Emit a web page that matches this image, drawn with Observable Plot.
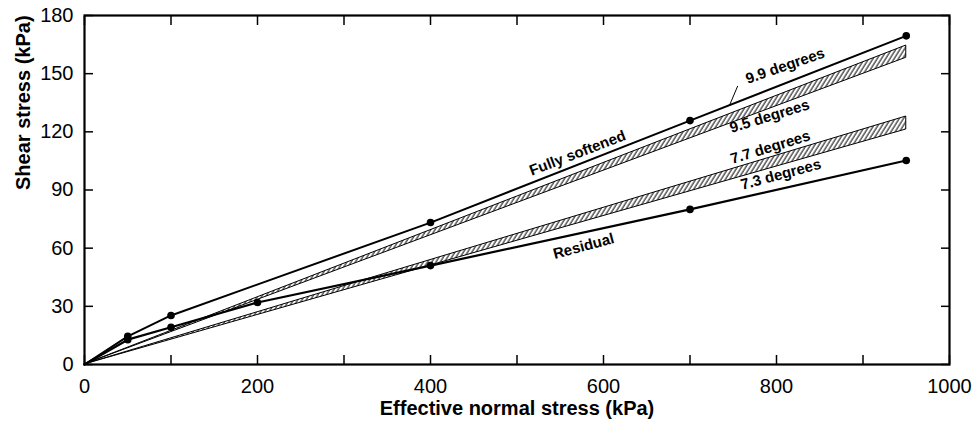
<!DOCTYPE html>
<html><head><meta charset="utf-8">
<script src="https://cdn.jsdelivr.net/npm/d3@7"></script>
<script src="https://cdn.jsdelivr.net/npm/@observablehq/plot@0.6"></script>
<style>body{margin:0;background:#fff}</style>
</head><body><div id="chart"></div>
<script>
// Fully softened test results (effective normal stress kPa, shear stress kPa)
const softX = [0, 50, 100, 400, 700, 950];
const softY = [0, 14.5, 25.3, 73.2, 125.8, 169.5];
// Residual test results
const resX = [0, 50, 100, 200, 400, 700, 950];
const resY = [0, 12.8, 19.2, 32, 51, 80, 105.2];
// Hatched envelope bands (9.5–9.9 degrees and 7.3–7.7 degrees)
const bandX = [0, 950];
const bandUpperLo = [0, 158.2];
const bandUpperHi = [0, 164.5];
const bandLowerLo = [0, 121.2];
const bandLowerHi = [0, 127.9];
// Annotations
const labelText = ["Fully softened", "9.9 degrees", "9.5 degrees", "7.7 degrees", "7.3 degrees", "Residual"];
const labelX = [570, 810, 792, 793, 805, 577];
const labelY = [109, 154, 128, 112, 98, 61];
const labelAngle = [-21, -19, -17, -17, -15, -15];
const leaderX = [755, 746];
const leaderY = [143.5, 134];
// Axis ticks
const xTickValues = [0, 100, 200, 300, 400, 500, 600, 700, 800, 900, 1000];
const xLabelValues = [0, 200, 400, 600, 800, 1000];
const yTickValues = [0, 30, 60, 90, 120, 150, 180];
const xTitle = "Effective normal stress (kPa)";
const yTitle = "Shear stress (kPa)";

const soft = softX.map((x, i) => ({x, y: softY[i]}));
const res = resX.map((x, i) => ({x, y: resY[i]}));
const bandU = bandX.map((x, i) => ({x, y1: bandUpperLo[i], y2: bandUpperHi[i]}));
const bandL = bandX.map((x, i) => ({x, y1: bandLowerLo[i], y2: bandLowerHi[i]}));
const labels = labelText.map((t, i) => ({t, x: labelX[i], y: labelY[i], a: labelAngle[i]}));
const leader = leaderX.map((x, i) => ({x, y: leaderY[i]}));
const blank = () => "";
const plain = d => String(d);

const svg = Plot.plot({
  width: 972,
  height: 425,
  marginTop: 15,
  marginBottom: 61,
  marginLeft: 84,
  marginRight: 23,
  style: {fontFamily: "Liberation Sans, Arial, sans-serif", background: "#fff", color: "#000"},
  x: {domain: [0, 1000]},
  y: {domain: [0, 180]},
  marks: [
    Plot.areaY(bandU, {x: "x", y1: "y1", y2: "y2", fill: "url(#hatch)", stroke: "#000", strokeWidth: 1}),
    Plot.areaY(bandL, {x: "x", y1: "y1", y2: "y2", fill: "url(#hatch)", stroke: "#000", strokeWidth: 1}),
    Plot.line(soft, {x: "x", y: "y", stroke: "#000", strokeWidth: 2}),
    Plot.line(res, {x: "x", y: "y", stroke: "#000", strokeWidth: 2.2}),
    Plot.dot(soft.filter(d => d.x > 0), {x: "x", y: "y", r: 3.8, fill: "#000"}),
    Plot.dot(res.filter(d => d.x > 0), {x: "x", y: "y", r: 3.8, fill: "#000"}),
    Plot.line(leader, {x: "x", y: "y", stroke: "#000", strokeWidth: 1}),
    Plot.text(labels, {x: "x", y: "y", text: "t", rotate: "a", fontSize: 15, fontWeight: "bold", fill: "#000", ariaLabel: "curve-labels"}),
    Plot.axisX({anchor: "bottom", ticks: xTickValues, tickSize: -9, tickFormat: blank, strokeWidth: 1.5, label: null}),
    Plot.axisX({anchor: "top", ticks: xTickValues, tickSize: -9, tickFormat: blank, strokeWidth: 1.5, label: null}),
    Plot.axisY({anchor: "left", ticks: yTickValues, tickSize: -9, tickFormat: blank, strokeWidth: 1.5, label: null}),
    Plot.axisY({anchor: "right", ticks: yTickValues, tickSize: -9, tickFormat: blank, strokeWidth: 1.5, label: null}),
    Plot.axisX({anchor: "bottom", ticks: xLabelValues, tickSize: 0, tickPadding: 14, fontSize: 20, tickFormat: plain, label: null}),
    Plot.axisY({anchor: "left", ticks: yTickValues, tickSize: 0, tickPadding: 11, fontSize: 20, tickFormat: plain, label: null}),
    Plot.text([xTitle], {frameAnchor: "bottom", dy: 50, fontSize: 20, fontWeight: "bold", fill: "#000"}),
    Plot.text([yTitle], {frameAnchor: "left", dx: -61, rotate: -90, fontSize: 20, fontWeight: "bold", fill: "#000"}),
    Plot.frame({stroke: "#000", strokeWidth: 2.2})
  ]
});

const s = d3.select(svg);
const defs = s.insert("defs", ":first-child");
const pat = defs.append("pattern")
  .attr("id", "hatch")
  .attr("patternUnits", "userSpaceOnUse")
  .attr("width", 3.6)
  .attr("height", 3.6)
  .attr("patternTransform", "rotate(32)");
pat.append("rect").attr("width", 3.6).attr("height", 3.6).attr("fill", "#fff");
pat.append("line").attr("x1", 1).attr("y1", 0).attr("x2", 1).attr("y2", 3.6)
  .attr("stroke", "#000").attr("stroke-width", 1);
s.selectAll('g[aria-label="curve-labels"] text').style("letter-spacing", "1px");

document.getElementById("chart").appendChild(svg);
</script>
</body></html>
